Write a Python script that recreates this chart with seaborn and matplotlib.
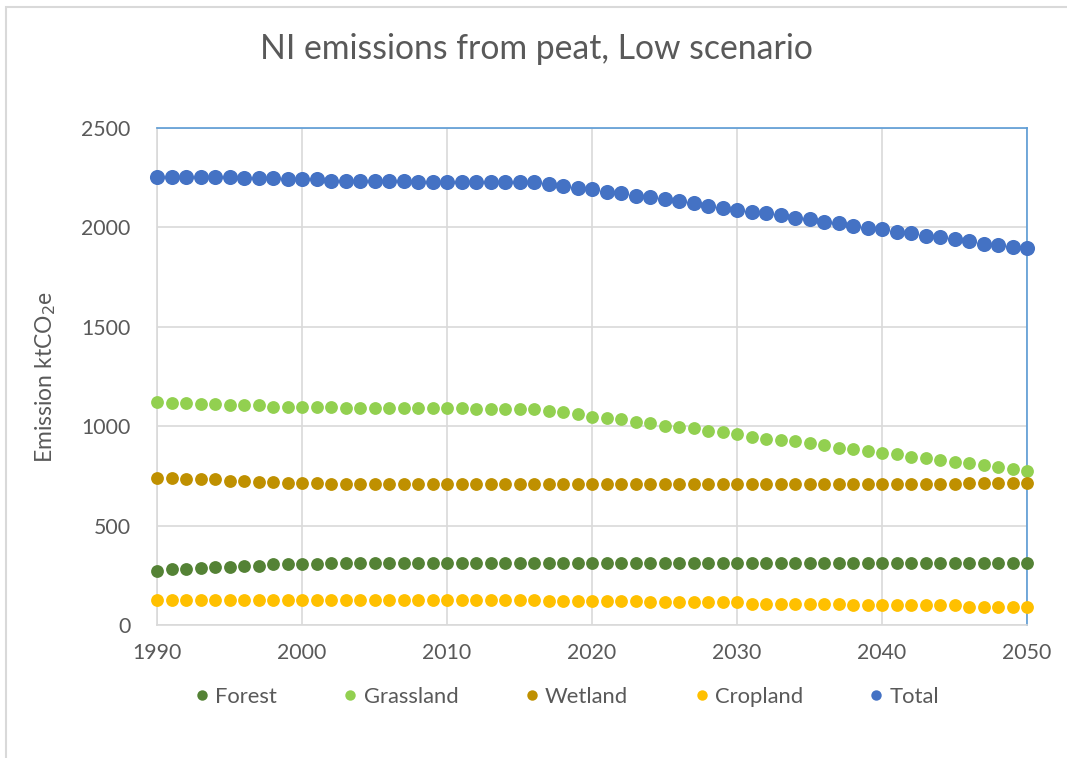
import numpy as np
import pandas as pd
import matplotlib
matplotlib.use("Agg")
import matplotlib.pyplot as plt
import seaborn as sns
from matplotlib.lines import Line2D
from matplotlib.patches import Rectangle

# values, 1990-2050
years = list(range(1990, 2051))

forest = [273, 280, 280, 288, 293, 293, 298, 298, 307, 307,
          307, 307, 313, 313, 313, 313, 313, 313, 313, 313,
          313, 313, 313, 313, 313, 313, 313, 313, 313, 313,
          313, 313, 313, 313, 313, 313, 313, 313, 313, 313,
          313, 313, 313, 313, 313, 313, 313, 313, 313, 313,
          313, 313, 313, 313, 313, 313, 313, 313, 313, 313, 313]

grassland = [1123, 1118, 1118, 1111, 1111, 1106, 1106, 1106, 1098, 1098,
             1098, 1098, 1098, 1090, 1090, 1090, 1090, 1090, 1090, 1090,
             1090, 1090, 1085, 1085, 1085, 1085, 1085, 1078, 1069, 1061,
             1048, 1043, 1034, 1022, 1014, 1002, 997, 989, 977, 972,
             959, 947, 935, 930, 925, 914, 905, 892, 885, 875,
             866, 860, 846, 841, 830, 821, 816, 805, 796, 785, 776]

wetland = [738, 738, 733, 733, 733, 726, 726, 721, 721, 713,
           713, 713, 708, 708, 708, 708, 708, 708, 708, 708,
           708, 708, 708, 708, 708, 708, 708, 708, 708, 708,
           708, 708, 708, 708, 708, 708, 708, 708, 708, 708,
           708, 708, 708, 708, 708, 708, 708, 708, 708, 708,
           708, 708, 708, 708, 708, 708, 714, 714, 714, 714, 714]

cropland = [126, 126, 126, 126, 126, 126, 126, 126, 126, 126,
            126, 126, 126, 126, 126, 126, 126, 126, 126, 126,
            126, 126, 126, 126, 126, 126, 126, 121, 121, 121,
            121, 121, 121, 121, 114, 114, 114, 114, 114, 114,
            114, 106, 106, 106, 106, 106, 106, 106, 101, 101,
            101, 101, 101, 101, 101, 101, 92, 92, 92, 92, 92]

total = [2254, 2254, 2254, 2254, 2254, 2254, 2246, 2246, 2246, 2241,
         2241, 2241, 2234, 2234, 2234, 2234, 2234, 2234, 2226, 2226,
         2226, 2226, 2226, 2230, 2230, 2230, 2230, 2216, 2210, 2198,
         2191, 2179, 2171, 2159, 2151, 2141, 2132, 2121, 2107, 2099,
         2087, 2079, 2070, 2062, 2048, 2042, 2028, 2020, 2008, 1998,
         1990, 1978, 1970, 1958, 1950, 1940, 1931, 1919, 1911, 1902, 1894]

series_names = ["Forest", "Grassland", "Wetland", "Cropland", "Total"]
series_values = [forest, grassland, wetland, cropland, total]
colors = ["#548235", "#92D050", "#BF9000", "#FFC000", "#4472C4"]
marker_sizes = [85, 85, 85, 85, 118]

text_col = "#595959"
grid_col = "#D9D9D9"

sns.set_style("white")
plt.rcParams["font.family"] = ["Lato", "DejaVu Sans"]

fig = plt.figure(figsize=(10.67, 7.58), dpi=100)
ax = fig.add_axes([157 / 1067, 1 - 625 / 758, 870 / 1067, 497 / 758])

for name, vals, c, s in zip(series_names, series_values, colors, marker_sizes):
    df = pd.DataFrame({"year": years, "value": vals})
    sns.scatterplot(data=df, x="year", y="value", color=c, s=s,
                    linewidth=0, ax=ax, zorder=3, clip_on=False)

ax.set_xlim(1990, 2050)
ax.set_ylim(0, 2500)
ax.set_xticks(range(1990, 2051, 10))
ax.set_yticks(range(0, 2501, 500))
ax.grid(True, color=grid_col, linewidth=1.2, zorder=0)
ax.set_axisbelow(True)

for side in ["left", "bottom"]:
    ax.spines[side].set_color(grid_col)
    ax.spines[side].set_linewidth(1.2)
for side in ["top", "right"]:
    ax.spines[side].set_color("#5B9BD5")
    ax.spines[side].set_linewidth(1.2)

ax.tick_params(axis="both", length=0, labelsize=15.3, labelcolor=text_col)
ax.tick_params(axis="x", pad=13)
ax.tick_params(axis="y", pad=19)
ax.set_xlabel("")
ax.set_ylabel("Emission ktCO$_2$e", fontsize=16.5, color=text_col, labelpad=17)

fig.text(0.503, 1 - 49 / 758, "NI emissions from peat, Low scenario",
         ha="center", va="center", fontsize=24.3, color=text_col)

handles = [Line2D([], [], marker="o", linestyle="", markersize=7.5,
                  markerfacecolor=c, markeredgewidth=0)
           for c in colors]
fig.legend(handles, series_names, loc="center", ncol=5,
           bbox_to_anchor=(565 / 1067, 1 - 697 / 758), frameon=False,
           fontsize=15.8, labelcolor=text_col, handletextpad=0.1,
           columnspacing=2.85, handlelength=1.0)

# outer chart border (left and top edges visible in the reference)
fig.patches.append(Rectangle((6 / 1067, -0.05), 1.1, 1 - 7 / 758 + 0.05,
                             transform=fig.transFigure, fill=False,
                             edgecolor=grid_col, linewidth=1.5))

fig.savefig("out.png", dpi=100)
